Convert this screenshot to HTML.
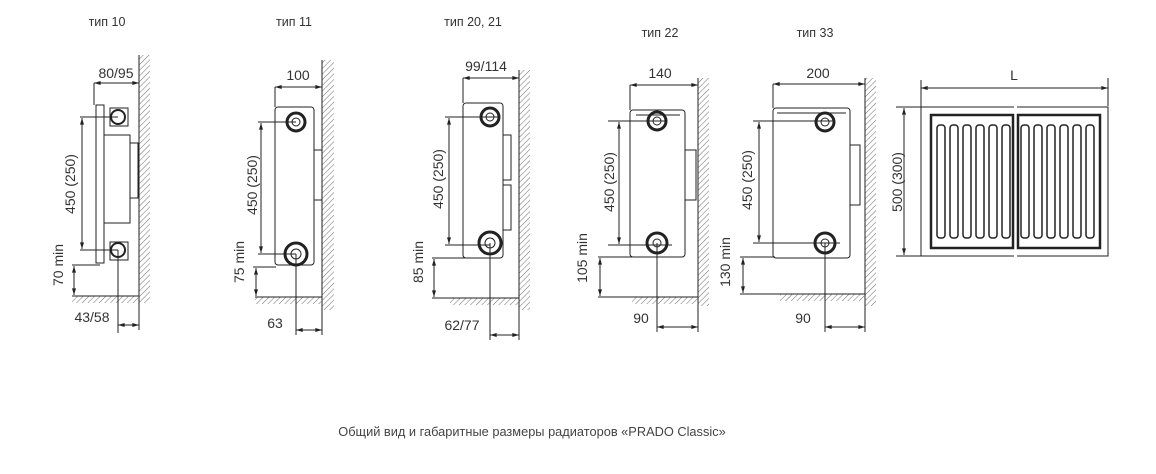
<!DOCTYPE html>
<html><head><meta charset="utf-8"><style>
html,body{margin:0;padding:0;background:#fff;}
svg{display:block}
text{font-family:"Liberation Sans",sans-serif;fill:#333;}
</style></head><body>
<svg width="1156" height="474" viewBox="0 0 1156 474" xmlns="http://www.w3.org/2000/svg">
<defs>
<pattern id="h" width="4" height="4" patternUnits="userSpaceOnUse" patternTransform="rotate(45)">
<line x1="0" y1="0" x2="0" y2="4" stroke="#777" stroke-width="1.1"/>
</pattern>
<marker id="a" viewBox="0 0 10 6" refX="10" refY="3" markerWidth="8" markerHeight="4" orient="auto-start-reverse" markerUnits="userSpaceOnUse">
<path d="M0,0 L10,3 L0,6z" fill="#222"/></marker>
</defs>
<g stroke="#222" stroke-width="1" fill="none">

<!-- ТИП 10 -->
<rect x="139" y="55" width="11" height="248" fill="url(#h)" stroke="none"/>
<line x1="139" y1="55" x2="139" y2="300"/>
<rect x="72" y="296" width="67" height="7" fill="url(#h)" stroke="none"/>
<line x1="72" y1="296" x2="139" y2="296"/>
<rect x="96" y="105" width="8" height="158"/>
<rect x="104" y="135" width="26" height="88"/>
<rect x="130" y="143" width="8" height="55"/>
<rect x="110" y="108" width="18" height="18"/><rect x="110" y="242" width="18" height="18"/>
<circle cx="118" cy="117" r="7" stroke-width="2"/><circle cx="118" cy="250" r="7" stroke-width="2"/>
<line x1="94" y1="83" x2="94" y2="105"/>
<line x1="94" y1="83" x2="139" y2="83" marker-start="url(#a)" marker-end="url(#a)"/>
<line x1="80" y1="117" x2="118" y2="117"/><line x1="80" y1="250" x2="118" y2="250"/>
<line x1="82" y1="118" x2="82" y2="249" marker-start="url(#a)" marker-end="url(#a)"/>
<line x1="72" y1="265" x2="100" y2="265"/>
<line x1="74" y1="266" x2="74" y2="295" marker-start="url(#a)" marker-end="url(#a)"/>
<line x1="118" y1="250" x2="118" y2="333"/>
<line x1="118" y1="325" x2="139" y2="325" marker-start="url(#a)" marker-end="url(#a)"/>
<line x1="139" y1="300" x2="139" y2="330"/>

<!-- ТИП 11 -->
<rect x="322" y="60" width="12" height="250" fill="url(#h)" stroke="none"/>
<line x1="322" y1="60" x2="322" y2="310"/>
<rect x="255" y="297" width="67" height="7" fill="url(#h)" stroke="none"/>
<line x1="255" y1="297" x2="322" y2="297"/>
<rect x="275" y="107" width="39" height="158" rx="3"/>
<rect x="314" y="150" width="8" height="50"/>
<circle cx="296" cy="122" r="9" stroke-width="3"/><circle cx="296" cy="122" r="4"/>
<circle cx="296" cy="254" r="11" stroke-width="3"/><circle cx="296" cy="254" r="5"/>
<line x1="275" y1="87" x2="275" y2="107"/>
<line x1="275" y1="87" x2="322" y2="87" marker-start="url(#a)" marker-end="url(#a)"/>
<line x1="258" y1="122" x2="296" y2="122"/><line x1="258" y1="254" x2="296" y2="254"/>
<line x1="261" y1="123" x2="261" y2="253" marker-start="url(#a)" marker-end="url(#a)"/>
<line x1="253" y1="267" x2="276" y2="267"/>
<line x1="256" y1="268" x2="256" y2="296" marker-start="url(#a)" marker-end="url(#a)"/>
<line x1="296" y1="254" x2="296" y2="335"/>
<line x1="296" y1="330" x2="322" y2="330" marker-start="url(#a)" marker-end="url(#a)"/>
<line x1="322" y1="305" x2="322" y2="335"/>

<!-- ТИП 20,21 -->
<rect x="519" y="70" width="11" height="240" fill="url(#h)" stroke="none"/>
<line x1="519" y1="70" x2="519" y2="310"/>
<rect x="450" y="298" width="69" height="7" fill="url(#h)" stroke="none"/>
<line x1="432" y1="298" x2="519" y2="298"/>
<rect x="463" y="103" width="40" height="155" rx="3"/>
<rect x="503" y="135" width="8" height="45"/><rect x="503" y="185" width="8" height="45"/>
<circle cx="490" cy="117" r="9" stroke-width="3"/><circle cx="490" cy="117" r="4"/>
<circle cx="490" cy="243" r="11" stroke-width="3"/><circle cx="490" cy="243" r="5"/>
<line x1="463" y1="78" x2="463" y2="103"/>
<line x1="463" y1="78" x2="519" y2="78" marker-start="url(#a)" marker-end="url(#a)"/>
<line x1="445" y1="117" x2="500" y2="117"/><line x1="445" y1="245" x2="490" y2="245"/>
<line x1="449" y1="118" x2="449" y2="244" marker-start="url(#a)" marker-end="url(#a)"/>
<line x1="432" y1="258" x2="465" y2="258"/>
<line x1="434" y1="259" x2="434" y2="297" marker-start="url(#a)" marker-end="url(#a)"/>
<line x1="490" y1="243" x2="490" y2="340"/>
<line x1="490" y1="335" x2="519" y2="335" marker-start="url(#a)" marker-end="url(#a)"/>
<line x1="519" y1="305" x2="519" y2="340"/>

<!-- ТИП 22 -->
<rect x="698" y="78" width="11" height="228" fill="url(#h)" stroke="none"/>
<line x1="698" y1="78" x2="698" y2="306"/>
<rect x="632" y="297" width="66" height="7" fill="url(#h)" stroke="none"/>
<line x1="598" y1="297" x2="698" y2="297"/>
<rect x="630" y="110" width="55" height="147" rx="3"/>
<line x1="636" y1="115" x2="680" y2="115"/>
<rect x="685" y="150" width="11" height="50"/>
<circle cx="657" cy="121" r="9" stroke-width="3"/><circle cx="657" cy="121" r="4"/>
<circle cx="657" cy="243" r="10" stroke-width="3"/><circle cx="657" cy="243" r="4"/>
<line x1="630" y1="85" x2="630" y2="110"/>
<line x1="630" y1="85" x2="698" y2="85" marker-start="url(#a)" marker-end="url(#a)"/>
<line x1="608" y1="121" x2="667" y2="121"/><line x1="608" y1="245" x2="672" y2="245"/>
<line x1="619" y1="122" x2="619" y2="244" marker-start="url(#a)" marker-end="url(#a)"/>
<line x1="598" y1="257" x2="632" y2="257"/>
<line x1="600" y1="258" x2="600" y2="296" marker-start="url(#a)" marker-end="url(#a)"/>
<line x1="657" y1="243" x2="657" y2="332"/>
<line x1="657" y1="327" x2="698" y2="327" marker-start="url(#a)" marker-end="url(#a)"/>
<line x1="698" y1="306" x2="698" y2="332"/>

<!-- ТИП 33 -->
<rect x="865" y="78" width="11" height="228" fill="url(#h)" stroke="none"/>
<line x1="865" y1="78" x2="865" y2="306"/>
<rect x="780" y="294" width="85" height="7" fill="url(#h)" stroke="none"/>
<line x1="740" y1="294" x2="865" y2="294"/>
<rect x="773" y="108" width="77" height="150" rx="3"/>
<line x1="777" y1="113" x2="846" y2="113"/>
<rect x="850" y="145" width="10" height="60"/>
<circle cx="825" cy="122" r="9" stroke-width="3"/><circle cx="825" cy="122" r="4"/>
<circle cx="825" cy="243" r="10" stroke-width="3"/><circle cx="825" cy="243" r="4"/>
<line x1="773" y1="84" x2="773" y2="108"/>
<line x1="773" y1="84" x2="865" y2="84" marker-start="url(#a)" marker-end="url(#a)"/>
<line x1="753" y1="121" x2="835" y2="121"/><line x1="753" y1="243" x2="840" y2="243"/>
<line x1="759" y1="122" x2="759" y2="242" marker-start="url(#a)" marker-end="url(#a)"/>
<line x1="740" y1="257" x2="775" y2="257"/>
<line x1="743" y1="258" x2="743" y2="293" marker-start="url(#a)" marker-end="url(#a)"/>
<line x1="825" y1="243" x2="825" y2="332"/>
<line x1="825" y1="327" x2="865" y2="327" marker-start="url(#a)" marker-end="url(#a)"/>
<line x1="865" y1="306" x2="865" y2="332"/>

<!-- FRONT VIEW -->
<line x1="921" y1="80" x2="921" y2="108"/><line x1="1108" y1="78" x2="1108" y2="106"/>
<line x1="921" y1="88" x2="1108" y2="88" marker-start="url(#a)" marker-end="url(#a)"/>
<line x1="896" y1="107" x2="922" y2="107"/><line x1="896" y1="256" x2="922" y2="256"/>
<line x1="904" y1="108" x2="904" y2="255" marker-start="url(#a)" marker-end="url(#a)"/>
<path d="M1014,107 H921 V256 H1014"/>
<path d="M1017,107 H1108 V256 H1017"/>
<rect x="931" y="115" width="82" height="133" stroke-width="2.5"/>
<rect x="1018" y="115" width="82" height="133" stroke-width="2.5"/>
<g stroke-width="1.5">
<rect x="937" y="125" width="8" height="113" rx="3"/><rect x="950" y="125" width="8" height="113" rx="3"/>
<rect x="963" y="125" width="8" height="113" rx="3"/><rect x="976" y="125" width="8" height="113" rx="3"/>
<rect x="989" y="125" width="8" height="113" rx="3"/><rect x="1002" y="125" width="8" height="113" rx="3"/>
<rect x="1021" y="125" width="8" height="113" rx="3"/><rect x="1034" y="125" width="8" height="113" rx="3"/>
<rect x="1047" y="125" width="8" height="113" rx="3"/><rect x="1060" y="125" width="8" height="113" rx="3"/>
<rect x="1073" y="125" width="8" height="113" rx="3"/><rect x="1086" y="125" width="8" height="113" rx="3"/>
</g>
</g>

<g font-size="12.5">
<text x="107" y="26" text-anchor="middle">тип 10</text>
<text x="294" y="26" text-anchor="middle">тип 11</text>
<text x="473" y="26" text-anchor="middle">тип 20, 21</text>
<text x="660" y="37" text-anchor="middle">тип 22</text>
<text x="815" y="37" text-anchor="middle">тип 33</text>
</g>
<g font-size="14">
<text x="116" y="78" text-anchor="middle">80/95</text>
<text x="298" y="80" text-anchor="middle">100</text>
<text x="486" y="71" text-anchor="middle">99/114</text>
<text x="660" y="78" text-anchor="middle">140</text>
<text x="818" y="78" text-anchor="middle">200</text>
<text x="1014" y="80" text-anchor="middle">L</text>
<text x="92" y="322" text-anchor="middle">43/58</text>
<text x="275" y="328" text-anchor="middle">63</text>
<text x="462" y="330" text-anchor="middle">62/77</text>
<text x="641" y="323" text-anchor="middle">90</text>
<text x="803" y="323" text-anchor="middle">90</text>
<text transform="translate(75,184) rotate(-90)" text-anchor="middle">450 (250)</text>
<text transform="translate(257,185) rotate(-90)" text-anchor="middle">450 (250)</text>
<text transform="translate(443,179) rotate(-90)" text-anchor="middle">450 (250)</text>
<text transform="translate(614,182) rotate(-90)" text-anchor="middle">450 (250)</text>
<text transform="translate(752,180) rotate(-90)" text-anchor="middle">450 (250)</text>
<text transform="translate(902,182) rotate(-90)" text-anchor="middle">500 (300)</text>
<text transform="translate(63,265) rotate(-90)" text-anchor="middle">70 min</text>
<text transform="translate(244,262) rotate(-90)" text-anchor="middle">75 min</text>
<text transform="translate(423,262) rotate(-90)" text-anchor="middle">85 min</text>
<text transform="translate(587,258) rotate(-90)" text-anchor="middle">105 min</text>
<text transform="translate(730,262) rotate(-90)" text-anchor="middle">130 min</text>
</g>
<text x="532" y="436" text-anchor="middle" font-size="12.8" style="fill:#444">Общий вид и габаритные размеры радиаторов «PRADO Classic»</text>
</svg>
</body></html>
